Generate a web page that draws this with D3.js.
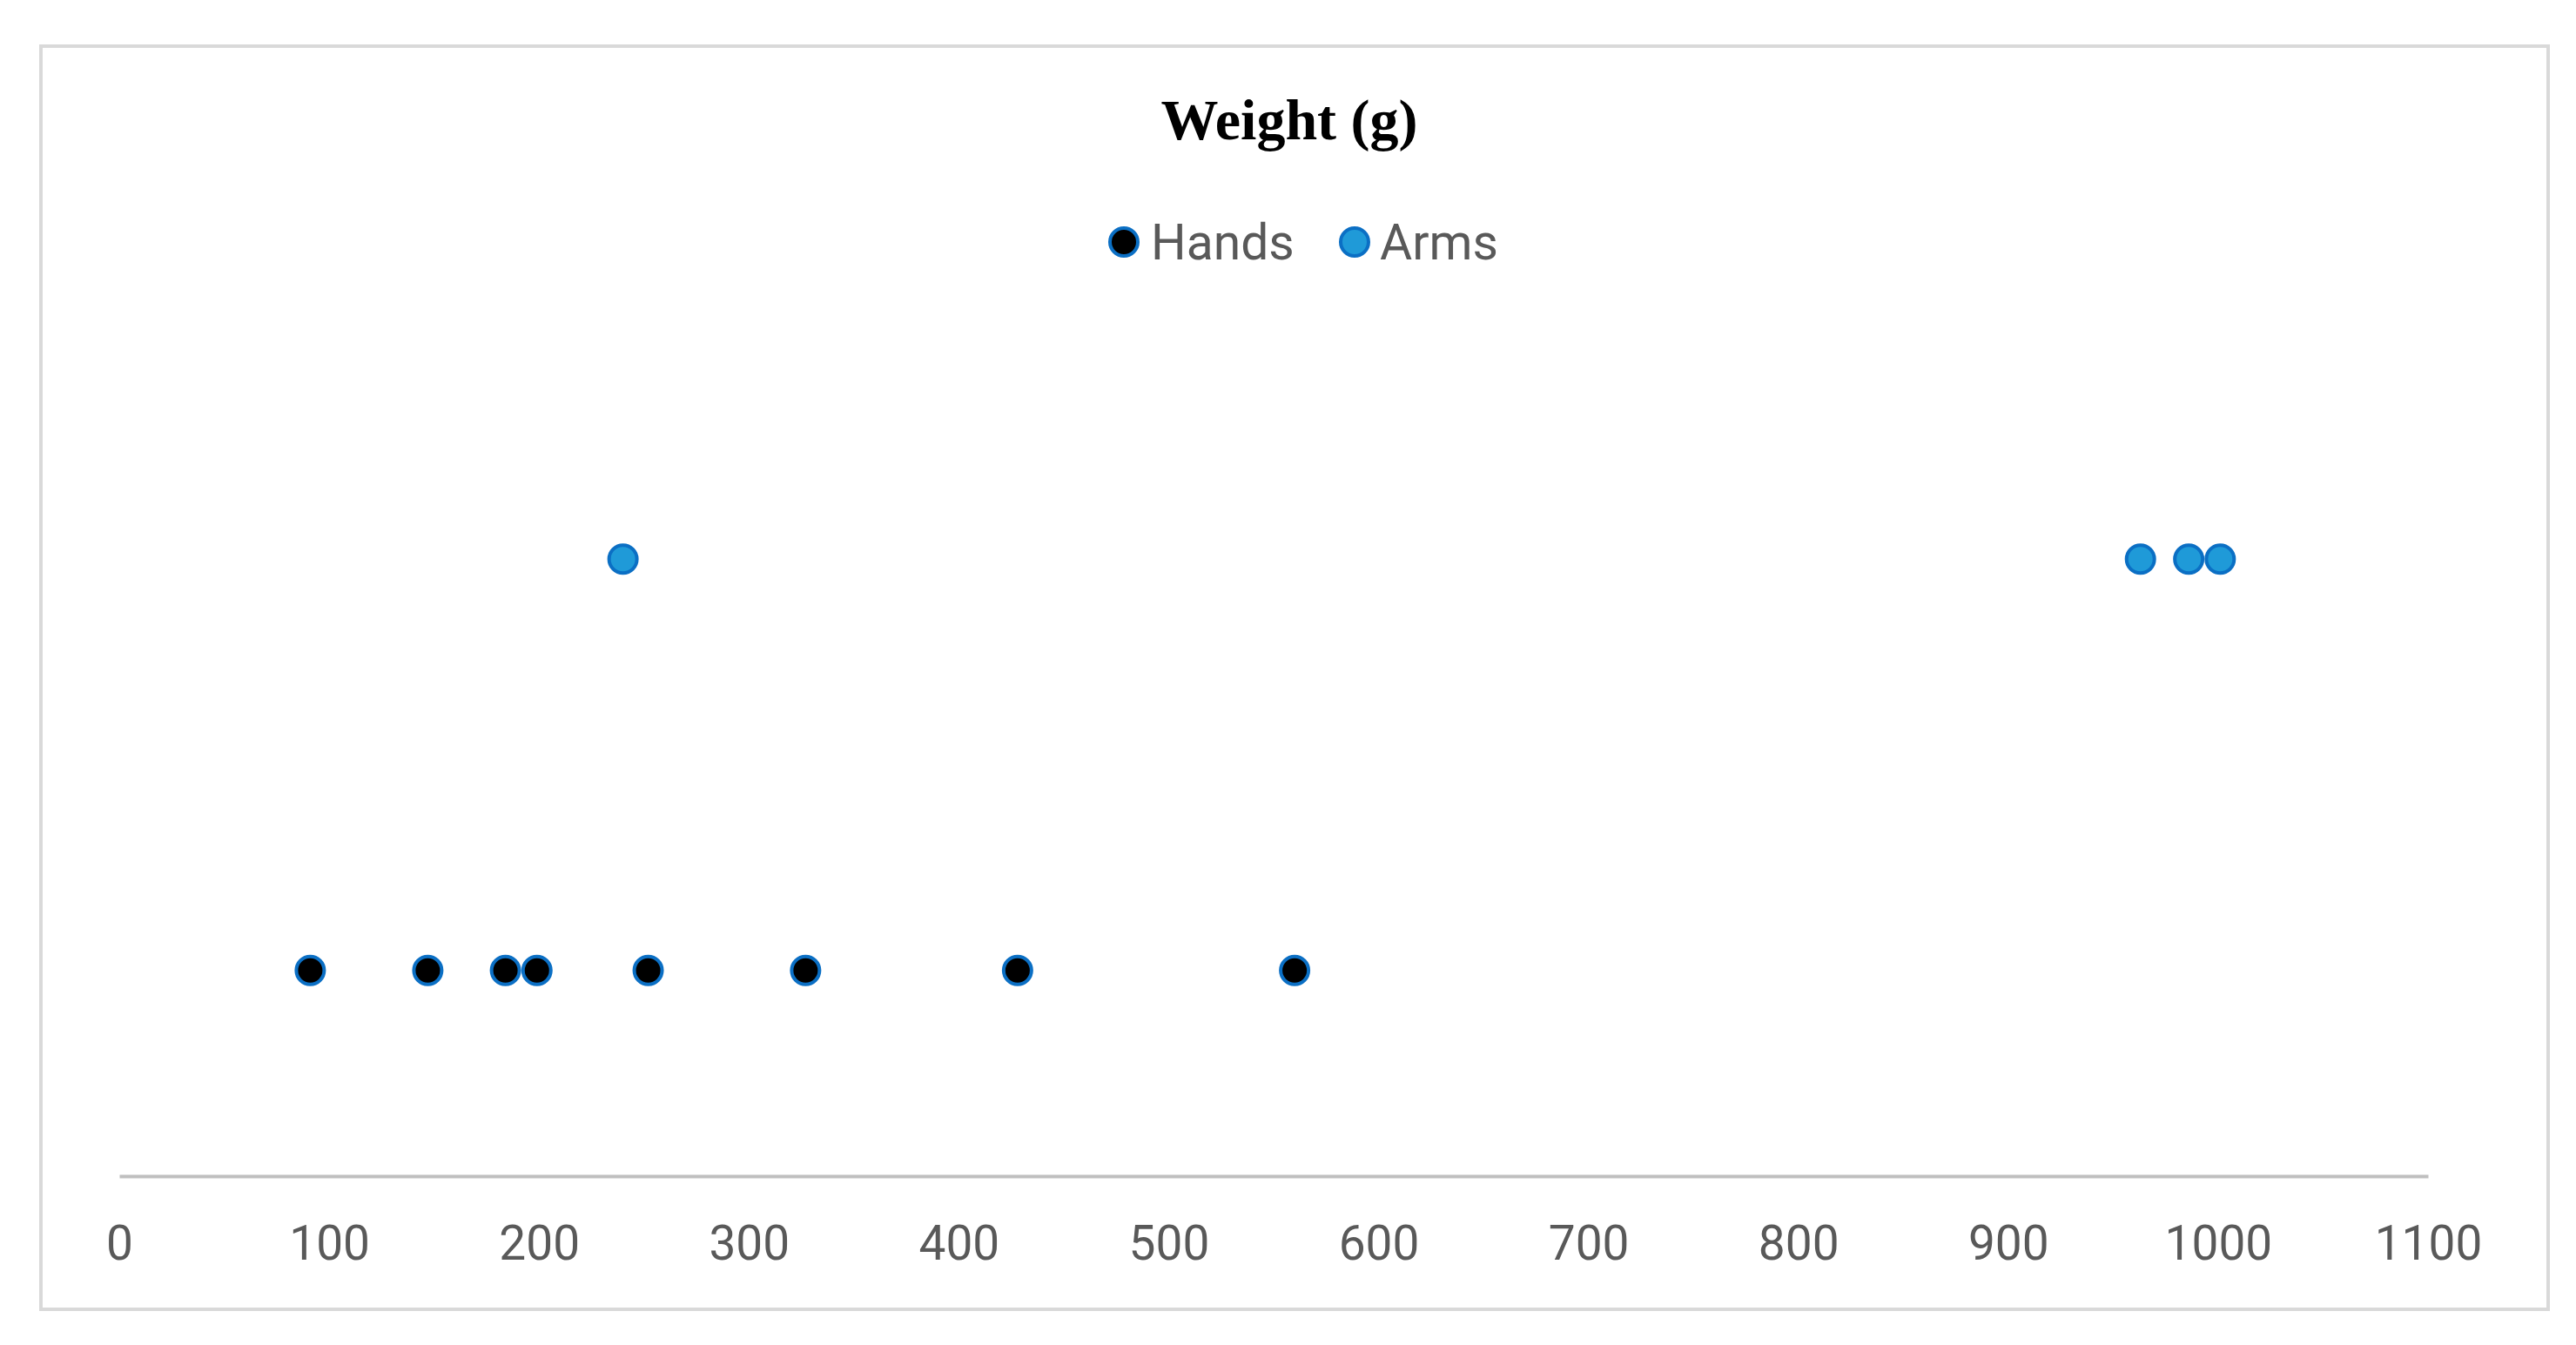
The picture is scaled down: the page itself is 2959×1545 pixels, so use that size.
<!DOCTYPE html>
<html>
<head>
<meta charset="utf-8">
<script src="https://cdn.jsdelivr.net/npm/d3@7"></script>
<style>
  html, body { margin: 0; padding: 0; background: #ffffff; }
  svg { display: block; }
</style>
</head>
<body>
<div id="chart"></div>
<script>
// ---- data ----
const seriesNames = ["Hands", "Arms"];
const handsWeights = [91, 147, 184, 199, 252, 327, 428, 560];
const handsLevel = [1, 1, 1, 1, 1, 1, 1, 1];
const armsWeights = [240, 963, 986, 1001];
const armsLevel = [3, 3, 3, 3];
const xTicks = [0, 100, 200, 300, 400, 500, 600, 700, 800, 900, 1000, 1100];
const chartTitle = "Weight (g)";

// ---- layout ----
const W = 2959, H = 1545;
const svg = d3.select("#chart").append("svg").attr("width", W).attr("height", H);

svg.append("rect").attr("x", 0).attr("y", 0).attr("width", W).attr("height", H).attr("fill", "#fff");
// chart border
svg.append("rect")
  .attr("x", 47).attr("y", 53).attr("width", 2880).attr("height", 1451)
  .attr("fill", "#fff").attr("stroke", "#d9d9d9").attr("stroke-width", 4);

const x = d3.scaleLinear().domain([0, 1100]).range([137, 2789]);
const y = d3.scaleLinear().domain([0, 4]).range([1351, 406]);

// title
svg.append("text")
  .attr("x", 1481).attr("y", 160)
  .attr("text-anchor", "middle")
  .attr("font-family", "'Liberation Serif', 'Times New Roman', serif")
  .attr("font-weight", "bold")
  .attr("font-size", 66)
  .attr("fill", "#000")
  .text(chartTitle);

// x axis
const axis = d3.axisBottom(x).tickValues(xTicks).tickSize(0).tickPadding(57).tickFormat(d3.format("d"));
const gx = svg.append("g").attr("transform", `translate(0,${y(0)})`).call(axis);
gx.select(".domain").attr("stroke", "#bfbfbf").attr("stroke-width", 4);
gx.selectAll(".tick text")
  .attr("font-family", "Roboto, 'Liberation Sans', Arial, sans-serif")
  .attr("font-size", 55)
  .attr("fill", "#595959");

// series styles
const styles = {
  Hands: { fill: "#000000", stroke: "#0b6fc4" },
  Arms: { fill: "#1f9ad8", stroke: "#0b6fc4" }
};

const handsData = handsWeights.map((w, i) => ({ w, lv: handsLevel[i] }));
const armsData = armsWeights.map((w, i) => ({ w, lv: armsLevel[i] }));

function drawSeries(data, name) {
  svg.append("g").selectAll("circle").data(data).join("circle")
    .attr("cx", d => x(d.w))
    .attr("cy", d => y(d.lv))
    .attr("r", 16)
    .attr("fill", styles[name].fill)
    .attr("stroke", styles[name].stroke)
    .attr("stroke-width", 4);
}
drawSeries(handsData, "Hands");
drawSeries(armsData, "Arms");

// legend
const legendItems = [
  { name: seriesNames[0], mx: 1291, tx: 1322 },
  { name: seriesNames[1], mx: 1556, tx: 1585 }
];
const lg = svg.append("g");
legendItems.forEach(it => {
  lg.append("circle")
    .attr("cx", it.mx).attr("cy", 278).attr("r", 16)
    .attr("fill", styles[it.name].fill)
    .attr("stroke", styles[it.name].stroke)
    .attr("stroke-width", 4);
  lg.append("text")
    .attr("x", it.tx).attr("y", 298)
    .attr("font-family", "Roboto, 'Liberation Sans', Arial, sans-serif")
    .attr("font-size", 57)
    .attr("fill", "#595959")
    .text(it.name);
});
</script>
</body>
</html>
